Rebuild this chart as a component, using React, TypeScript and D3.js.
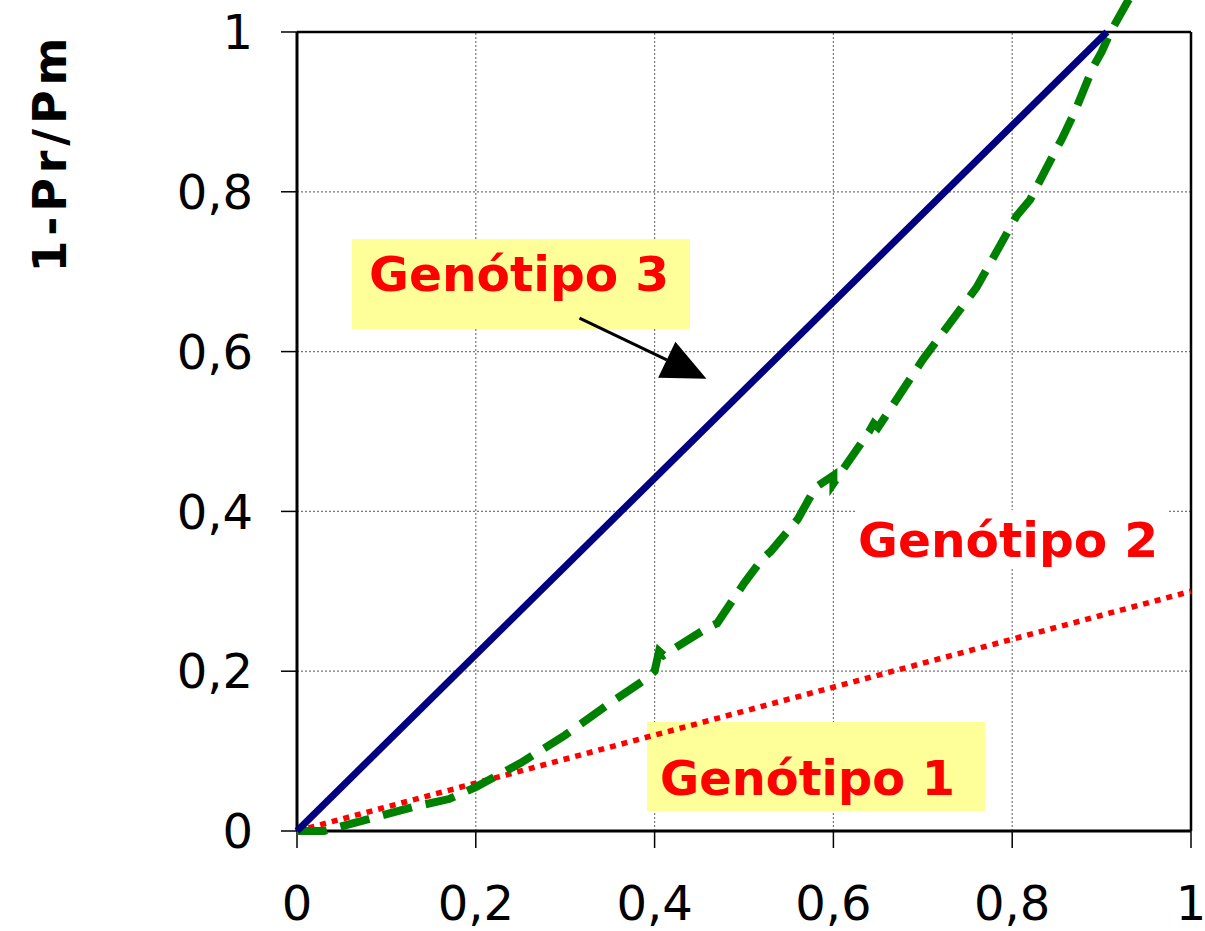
import React from "react";
import * as d3 from "d3";

const xTicks = [0, 0.2, 0.4, 0.6, 0.8, 1];
const yTicks = [0, 0.2, 0.4, 0.6, 0.8, 1];
const tickLabel = (v: number) => (v === 0 || v === 1 ? String(v) : String(v).replace(".", ","));

const g3X = [0, 0.906];
const g3Y = [0, 1.0];

const g2X = [0, 1.0];
const g2Y = [0, 0.3];

const greenX = [0, 0.03, 0.08, 0.13, 0.17, 0.2, 0.25, 0.3, 0.35, 0.39, 0.4, 0.405, 0.41, 0.46, 0.47, 0.5, 0.52, 0.525, 0.53, 0.56, 0.58, 0.6, 0.6, 0.64, 0.645, 0.65, 0.7, 0.71, 0.72, 0.76, 0.8, 0.805, 0.82, 0.85, 0.855, 0.87, 0.89, 0.9, 0.91, 0.935];
const greenY = [0, 0, 0.015, 0.03, 0.04, 0.055, 0.085, 0.12, 0.16, 0.19, 0.2, 0.225, 0.22, 0.255, 0.26, 0.31, 0.34, 0.345, 0.35, 0.39, 0.43, 0.445, 0.435, 0.5, 0.51, 0.505, 0.59, 0.605, 0.62, 0.68, 0.76, 0.77, 0.79, 0.855, 0.865, 0.9, 0.955, 0.975, 1.0, 1.05];

const yTitle = "1-Pr/Pm";
const labels = ["Genótipo 3", "Genótipo 2", "Genótipo 1"];

export default function App() {
  const W = 1205, H = 931;
  const x = d3.scaleLinear().domain([0, 1]).range([297, 1191]);
  const y = d3.scaleLinear().domain([0, 1]).range([831, 32]);
  const line = d3.line<[number, number]>().x(d => x(d[0])).y(d => y(d[1]));
  const zip = (a: number[], b: number[]) => a.map((v, i) => [v, b[i]] as [number, number]);
  const font = "'DejaVu Sans', Verdana, sans-serif";

  // annotation arrow in data coords
  const aStart: [number, number] = [0.316, 0.642];
  const aTip: [number, number] = [0.458, 0.566];
  const sx = x(aStart[0]), sy = y(aStart[1]), tx = x(aTip[0]), ty = y(aTip[1]);
  const ang = Math.atan2(ty - sy, tx - sx);
  const hl = 44, hw = 20;
  const bx = tx - hl * Math.cos(ang), by = ty - hl * Math.sin(ang);
  const p1 = [bx + hw * Math.sin(ang), by - hw * Math.cos(ang)];
  const p2 = [bx - hw * Math.sin(ang), by + hw * Math.cos(ang)];

  return (
    <svg width={W} height={H} style={{ position: "absolute", left: 0, top: 0, background: "#fff" }} fontFamily={font}>
      {/* gridlines */}
      {xTicks.slice(1, -1).map(t => (
        <line key={"gx" + t} x1={x(t)} x2={x(t)} y1={y(0)} y2={y(1)} stroke="#777" strokeWidth={1.2} strokeDasharray="2,2" />
      ))}
      {yTicks.slice(1, -1).map(t => (
        <line key={"gy" + t} x1={x(0)} x2={x(1)} y1={y(t)} y2={y(t)} stroke="#777" strokeWidth={1.2} strokeDasharray="2,2" />
      ))}
      {/* frame */}
      <line x1={x(0)} x2={x(1)} y1={y(1)} y2={y(1)} stroke="#000" strokeWidth={2.5} />
      <line x1={x(1)} x2={x(1)} y1={y(0)} y2={y(1)} stroke="#000" strokeWidth={2.5} />
      <line x1={x(0)} x2={x(0)} y1={y(0)} y2={y(1)} stroke="#000" strokeWidth={3} />
      <line x1={x(0)} x2={x(1)} y1={y(0)} y2={y(0)} stroke="#000" strokeWidth={3} />
      {/* ticks */}
      {yTicks.map(t => (
        <g key={"yt" + t}>
          <line x1={x(0) - 16} x2={x(0)} y1={y(t)} y2={y(t)} stroke="#000" strokeWidth={1.5} />
          <text x={253} y={y(t)} dy="0.36em" textAnchor="end" fontSize={48} fill="#000">{tickLabel(t)}</text>
        </g>
      ))}
      {xTicks.map(t => (
        <g key={"xt" + t}>
          <line x1={x(t)} x2={x(t)} y1={y(0)} y2={y(0) + 17} stroke="#000" strokeWidth={1.5} />
          <text x={x(t)} y={920} textAnchor="middle" fontSize={48} fill="#000">{tickLabel(t)}</text>
        </g>
      ))}
      {/* y title */}
      <text transform={`translate(66,155) rotate(-90)`} textAnchor="middle" fontSize={46} fontWeight="bold" fill="#000" textLength={235} lengthAdjust="spacing">{yTitle}</text>

      {/* Genótipo 2 label background */}
      <rect x={855} y={510} width={313} height={58} fill="#fff" />
      <text x={858} y={557} fontSize={48} fontWeight="bold" fill="#ff0000" textLength={300} lengthAdjust="spacingAndGlyphs">{labels[1]}</text>

      {/* Genótipo 1 box */}
      <rect x={647} y={722} width={338} height={89} fill="#ffff99" />
      <text x={660} y={795} fontSize={48} fontWeight="bold" fill="#ff0000" textLength={295} lengthAdjust="spacingAndGlyphs">{labels[2]}</text>

      {/* series */}
      <path d={line(zip(g2X, g2Y)) || ""} fill="none" stroke="#ff0000" strokeWidth={5.5} strokeDasharray="6,6" />
      <path d={line(zip(greenX, greenY)) || ""} fill="none" stroke="#008000" strokeWidth={8} strokeDasharray="30,14" />
      <path d={line(zip(g3X, g3Y)) || ""} fill="none" stroke="#000080" strokeWidth={7} />

      {/* Genótipo 3 box */}
      <rect x={352} y={239} width={338} height={90} fill="#ffff99" />
      <text x={369} y={291} fontSize={48} fontWeight="bold" fill="#ff0000" textLength={300} lengthAdjust="spacingAndGlyphs">{labels[0]}</text>
      <line x1={sx} y1={sy} x2={bx} y2={by} stroke="#000" strokeWidth={3} />
      <polygon points={`${tx},${ty} ${p1[0]},${p1[1]} ${p2[0]},${p2[1]}`} fill="#000" />
    </svg>
  );
}
